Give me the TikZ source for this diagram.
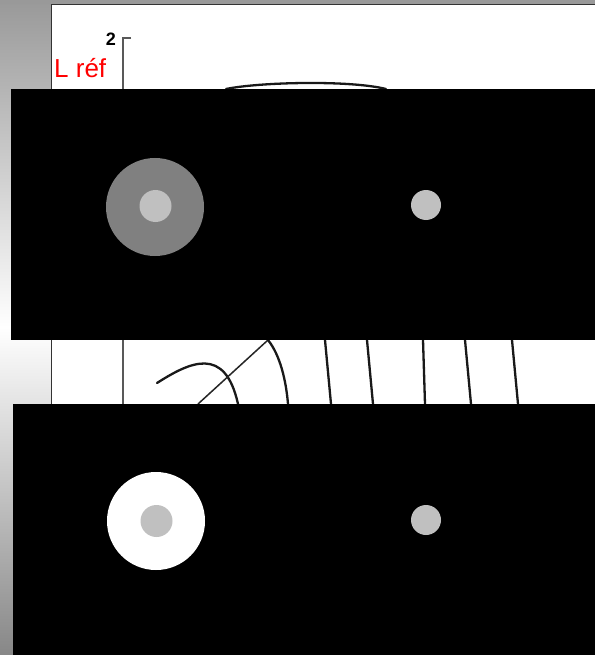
\documentclass[tikz,border=0pt]{standalone}
\usepackage{fontspec}
\setmainfont{Liberation Sans}
\definecolor{midgray}{HTML}{808080}
\definecolor{lightdisc}{HTML}{C0C0C0}
\begin{document}
\begin{tikzpicture}[x=1pt,y=-1pt,
  plotcurve/.style={line width=2.3pt, black!90, line cap=round},
  thincurve/.style={line width=1.5pt, black!85},
  axisline/.style={line width=2pt, black!65},
  blackpanel/.style={fill=black},
]
\useasboundingbox (0,0) rectangle (595,655);
% background
\shade[top color=black!40, bottom color=black!47, middle color=white] (0,0) rectangle (52,655);
\fill[black!40] (0,0) rectangle (595,4);
\fill[white] (51.5,4.5) rectangle (595,655);
\draw[black!80, line width=1pt] (51.5,655) -- (51.5,4.5) -- (595,4.5);
% labels
\node[anchor=base west, inner sep=0pt, text=red, font=\fontsize{26}{30}\selectfont] (lref) at (54,78) {L réf};
\node[inner sep=0pt, font=\fontsize{18}{20}\selectfont\bfseries] (ytick) at (111,39.5) {2};
% axis
\draw[axisline] (131,38) -- (123,38) -- (123,404);
% curves
\draw[plotcurve] (226,89) .. controls (260,82) and (350,80) .. (386,89);
\draw[plotcurve] (157,383) .. controls (190,362) and (225,345) .. (238,404);
\draw[thincurve] (198,404) -- (268,340);
\draw[plotcurve] (268,340) .. controls (280,355) and (286,380) .. (288,404);
\draw[plotcurve] (325,340) -- (331,404);
\draw[plotcurve] (367,340) -- (373,404);
\draw[plotcurve] (423,340) -- (425,404);
\draw[plotcurve] (465,340) -- (471,404);
\draw[plotcurve] (512,340) -- (518,404);
% black panels
\fill[blackpanel] (11,89) rectangle (595,340);
\fill[blackpanel] (13,404) rectangle (595,655);
% discs, top panel
\fill[midgray] (155,207) circle[radius=49pt];
\fill[lightdisc] (155.5,206) circle[radius=16pt];
\fill[lightdisc] (426,205) circle[radius=15pt];
% discs, bottom panel
\fill[white] (156,521) circle[radius=49pt];
\fill[lightdisc] (156.5,521) circle[radius=16pt];
\fill[lightdisc] (426,520) circle[radius=15pt];
\end{tikzpicture}
\end{document}
